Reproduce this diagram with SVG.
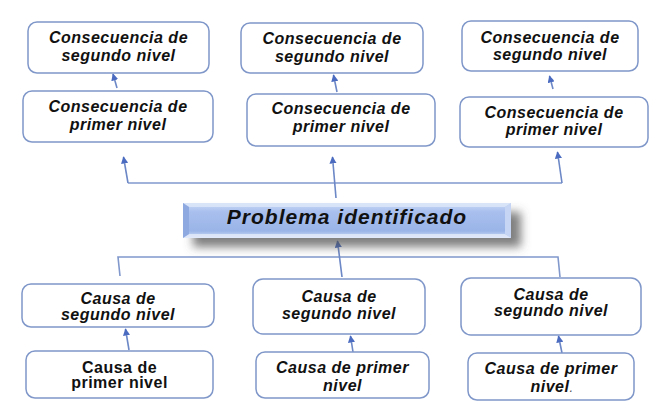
<svg xmlns="http://www.w3.org/2000/svg" width="661" height="415" viewBox="0 0 661 415">
<defs>
<style>
.box{fill:#ffffff;stroke:#7f97c9;stroke-width:1.5}
.t{font-family:"Liberation Sans",Arial,sans-serif;font-size:16px;font-weight:bold;font-style:italic;fill:#111;text-anchor:middle;letter-spacing:0.5px}
.tn{font-style:normal}
.ln{fill:none;stroke:#8098cc;stroke-width:1.6}
.ar{fill:none;stroke:#6d88c6;stroke-width:1.6;marker-end:url(#ah)}
.pt{font-family:"Liberation Sans",Arial,sans-serif;font-size:21px;font-weight:bold;font-style:italic;fill:#111;text-anchor:middle;letter-spacing:1px}
</style>
<marker id="ah" viewBox="0 0 10 10" refX="9" refY="5" markerWidth="4.5" markerHeight="4.5" orient="auto" markerUnits="strokeWidth">
<path d="M0,0 L10,5 L0,10 z" fill="#4a6bc0"/>
</marker>
<linearGradient id="pg" x1="0" y1="0" x2="0" y2="1">
<stop offset="0" stop-color="#c9d8f5"/>
<stop offset="0.25" stop-color="#a9c0ee"/>
<stop offset="0.8" stop-color="#9ab4e8"/>
<stop offset="1" stop-color="#d6e2f8"/>
</linearGradient>
<filter id="sh" x="-10%" y="-40%" width="125%" height="220%">
<feGaussianBlur in="SourceAlpha" stdDeviation="5"/>
<feOffset dx="10" dy="9" result="b"/>
<feFlood flood-color="#555" flood-opacity="0.75"/>
<feComposite in2="b" operator="in"/>
<feMerge><feMergeNode/><feMergeNode in="SourceGraphic"/></feMerge>
</filter>
</defs>
<rect width="661" height="415" fill="#ffffff"/>

<g id="connectors">
<polyline class="ln" points="128,183 562,183"/>
<line class="ar" x1="128" y1="183" x2="123.5" y2="157"/>
<line class="ar" x1="562" y1="183" x2="557.5" y2="152"/>
<line class="ar" x1="336" y1="198" x2="332.5" y2="157"/>
<line class="ar" x1="117" y1="88" x2="113" y2="74"/>
<line class="ar" x1="337" y1="92" x2="333.5" y2="75"/>
<line class="ar" x1="553" y1="89" x2="549.5" y2="76"/>
<polyline class="ln" points="120,276 118,257 558,257 560,277"/>
<line class="ar" x1="342" y1="277" x2="337.5" y2="241"/>
<line class="ar" x1="129" y1="350" x2="125.5" y2="329"/>
<line class="ar" x1="353" y1="352" x2="350.5" y2="336"/>
<line class="ar" x1="562" y1="353" x2="558.5" y2="336"/>
</g>

<g id="problema">
<g filter="url(#sh)">
<rect x="183" y="203" width="328" height="35" fill="url(#pg)"/>
</g>
<polygon points="183,203 511,203 505,207 189,207" fill="#dde7f9" opacity="0.8"/>
<polygon points="183,238 511,238 505,234 189,234" fill="#e3ebfa" opacity="0.8"/>
<polygon points="511,203 511,238 505,234 505,207" fill="#c5d5f3"/>
<polygon points="183,203 183,238 189,234 189,207" fill="#8ea9e0"/>
<text class="pt" x="347" y="224">Problema identificado</text>
</g>

<g id="cons2-1"><rect class="box" x="28" y="22" width="181" height="51" rx="9"/>
<text class="t" x="118.5" y="43">Consecuencia de</text><text class="t" x="118.5" y="61">segundo nivel</text></g>
<g id="cons2-2"><rect class="box" x="241" y="23" width="182" height="50" rx="9"/>
<text class="t" x="332" y="43.5">Consecuencia de</text><text class="t" x="332" y="61.5">segundo nivel</text></g>
<g id="cons2-3"><rect class="box" x="462" y="21" width="176" height="50" rx="9"/>
<text class="t" x="550" y="42.5">Consecuencia de</text><text class="t" x="550" y="60">segundo nivel</text></g>

<g id="cons1-1"><rect class="box" x="23" y="91" width="190" height="51" rx="9"/>
<text class="t" x="118" y="111.5">Consecuencia de</text><text class="t" x="118" y="129.5">primer nivel</text></g>
<g id="cons1-2"><rect class="box" x="247" y="94" width="188" height="52" rx="9"/>
<text class="t" x="341" y="113.5">Consecuencia de</text><text class="t" x="341" y="131.5">primer nivel</text></g>
<g id="cons1-3"><rect class="box" x="460" y="97" width="188" height="50" rx="9"/>
<text class="t" x="554" y="117.5">Consecuencia de</text><text class="t" x="554" y="134.5">primer nivel</text></g>

<g id="causa2-1"><rect class="box" x="22" y="284" width="192" height="43" rx="9"/>
<text class="t" x="118" y="303.5">Causa de</text><text class="t" x="118" y="319.5">segundo nivel</text></g>
<g id="causa2-2"><rect class="box" x="253" y="279" width="172" height="55" rx="10"/>
<text class="t" x="339" y="301.5">Causa de</text><text class="t" x="339" y="318.5">segundo nivel</text></g>
<g id="causa2-3"><rect class="box" x="461" y="278" width="180" height="57" rx="10"/>
<text class="t" x="551" y="299.5">Causa de</text><text class="t" x="551" y="315.5">segundo nivel</text></g>

<g id="causa1-1"><rect class="box" x="26" y="351" width="187" height="47" rx="9"/>
<text class="t tn" x="119.5" y="372.5">Causa de</text><text class="t tn" x="119.5" y="388">primer nivel</text></g>
<g id="causa1-2"><rect class="box" x="256" y="352" width="173" height="46" rx="9"/>
<text class="t" x="342.5" y="372.5">Causa de primer</text><text class="t" x="342.5" y="390.5">nivel</text></g>
<g id="causa1-3"><rect class="box" x="468" y="353" width="166" height="47" rx="9"/>
<text class="t" x="551" y="373.5">Causa de primer</text><text class="t" x="552" y="391.5">nivel<tspan style="font-weight:normal;fill:#555;font-size:13px">.</tspan></text></g>
</svg>
